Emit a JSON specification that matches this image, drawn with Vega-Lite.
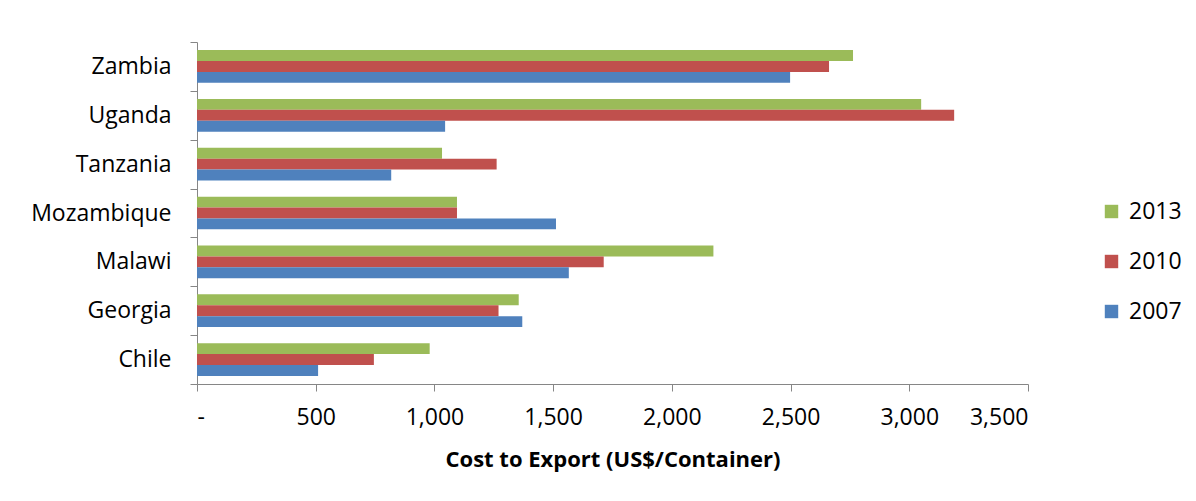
{
  "$schema": "https://vega.github.io/schema/vega-lite/v6.json",
  "width": 831,
  "height": 342,
  "autosize": {"type": "none"},
  "padding": {"left": 197, "top": 42, "right": 168, "bottom": 117},
  "background": "white",
  "config": {
    "view": {"stroke": null},
    "font": "Open Sans"
  },
  "data": {
    "values": [
      {"country": "Zambia", "year": "2013", "value": 2763},
      {"country": "Zambia", "year": "2010", "value": 2662},
      {"country": "Zambia", "year": "2007", "value": 2498},
      {"country": "Uganda", "year": "2013", "value": 3050},
      {"country": "Uganda", "year": "2010", "value": 3189},
      {"country": "Uganda", "year": "2007", "value": 1045},
      {"country": "Tanzania", "year": "2013", "value": 1032},
      {"country": "Tanzania", "year": "2010", "value": 1262},
      {"country": "Tanzania", "year": "2007", "value": 818},
      {"country": "Mozambique", "year": "2013", "value": 1095},
      {"country": "Mozambique", "year": "2010", "value": 1095},
      {"country": "Mozambique", "year": "2007", "value": 1512},
      {"country": "Malawi", "year": "2013", "value": 2175},
      {"country": "Malawi", "year": "2010", "value": 1713},
      {"country": "Malawi", "year": "2007", "value": 1566},
      {"country": "Georgia", "year": "2013", "value": 1355},
      {"country": "Georgia", "year": "2010", "value": 1270},
      {"country": "Georgia", "year": "2007", "value": 1370},
      {"country": "Chile", "year": "2013", "value": 980},
      {"country": "Chile", "year": "2010", "value": 745},
      {"country": "Chile", "year": "2007", "value": 510}
    ]
  },
  "mark": {"type": "bar", "stroke": null},
  "encoding": {
    "y": {
      "field": "country",
      "type": "nominal",
      "sort": ["Zambia", "Uganda", "Tanzania", "Mozambique", "Malawi", "Georgia", "Chile"],
      "scale": {"paddingInner": 0, "paddingOuter": 0},
      "axis": {
        "title": null,
        "tickBand": "extent",
        "domainColor": "#868686",
        "tickColor": "#868686",
        "tickSize": 7,
        "labelFontSize": 23,
        "labelColor": "#000000",
        "labelPadding": 19,
        "labelFont": "Open Sans"
      }
    },
    "yOffset": {
      "field": "year",
      "type": "nominal",
      "sort": ["2013", "2010", "2007"],
      "scale": {"paddingInner": 0, "paddingOuter": 0.74}
    },
    "x": {
      "field": "value",
      "type": "quantitative",
      "scale": {"domain": [0, 3500], "nice": false},
      "axis": {
        "title": "Cost to Export (US$/Container)",
        "titleFontSize": 22,
        "titleFontWeight": "bold",
        "titleColor": "#000000",
        "titlePadding": 20,
        "titleFont": "Open Sans",
        "values": [0, 500, 1000, 1500, 2000, 2500, 3000, 3500],
        "labelExpr": "datum.value == 0 ? '-' : format(datum.value, ',')",
        "grid": false,
        "domainColor": "#868686",
        "tickColor": "#868686",
        "tickSize": 7,
        "labelFontSize": 23,
        "labelColor": "#000000",
        "labelPadding": 15,
        "labelFont": "Open Sans"
      }
    },
    "color": {
      "field": "year",
      "type": "nominal",
      "scale": {"domain": ["2013", "2010", "2007"], "range": ["#9BBB59", "#C0504D", "#4F81BD"]},
      "legend": {
        "title": null,
        "orient": "none",
        "legendX": 903,
        "legendY": 158,
        "symbolType": "square",
        "symbolSize": 180,
        "symbolStrokeWidth": 0,
        "labelFontSize": 23,
        "labelColor": "#000000",
        "labelFont": "Open Sans",
        "labelOffset": 6,
        "rowPadding": 26,
        "padding": 0
      }
    }
  }
}
